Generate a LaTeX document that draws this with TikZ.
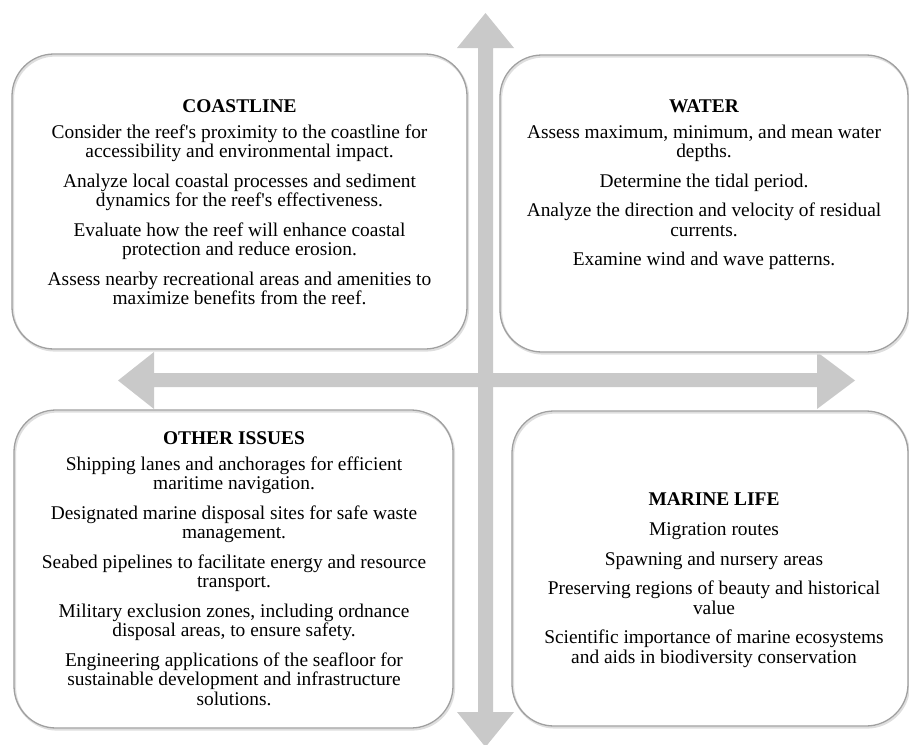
\documentclass[tikz,border=0pt]{standalone}
\usepackage{fontspec}
\setmainfont{Liberation Serif}
\newfontfamily\diagfont{Liberation Serif}
\definecolor{arrowgray}{RGB}{201,201,201}
\definecolor{boxline}{RGB}{160,160,160}
\definecolor{shadowline}{RGB}{222,222,222}
\begin{document}
\begin{tikzpicture}[x=1pt,y=-1pt,
  panel/.style={draw=boxline, line width=1.3pt, rounded corners=42pt, inner sep=0pt, outer sep=0pt},
  panelshadow/.style={draw=shadowline, line width=2.2pt, rounded corners=42pt, inner sep=0pt, outer sep=0pt},
  paneltext/.style={align=center, inner sep=0pt, font=\diagfont\fontsize{19.4}{19.5}\selectfont, anchor=base},
  paneltitle/.style={inner sep=0pt, font=\diagfont\bfseries\fontsize{19.4}{19.5}\selectfont, anchor=base},
  bigarrow/.style={fill=arrowgray, draw=none}]
\useasboundingbox (0,0) rectangle (909,744);

% cross of double arrows
\fill[bigarrow] (478,48) -- (457,48) -- (485.5,13) -- (514,48) -- (493,48)
  -- (493,712) -- (514,712) -- (485.5,747) -- (457,712) -- (478,712) -- cycle;
\fill[bigarrow] (154,373) -- (154,352) -- (118,380.5) -- (154,409) -- (154,387)
  -- (817,387) -- (817,409) -- (855,380.5) -- (817,352) -- (817,373) -- cycle;

% panels
\node[panelshadow, minimum width=455pt, minimum height=295pt] (coastS) at (240.5,203) {};
\node[panel, minimum width=455pt, minimum height=295pt] (coast) at (239.5,201.5) {};
\node[panelshadow, minimum width=408pt, minimum height=297pt] (waterS) at (705,205) {};
\node[panel, minimum width=408pt, minimum height=297pt] (water) at (704,203.5) {};
\node[panelshadow, minimum width=439pt, minimum height=318pt] (otherS) at (234.5,570.5) {};
\node[panel, minimum width=439pt, minimum height=318pt] (other) at (233.5,569) {};
\node[panelshadow, minimum width=396pt, minimum height=315pt] (marineS) at (711,570) {};
\node[panel, minimum width=396pt, minimum height=315pt] (marine) at (710,568.5) {};

% texts (base anchor = baseline of the last line)
\node[paneltitle] (coastT) at (239.5,112) {COASTLINE};
\node[paneltext] (coastB) at (239.5,304.5) {Consider the reef's proximity to the coastline for\\
accessibility and environmental impact.\\[10pt]
Analyze local coastal processes and sediment\\
dynamics for the reef's effectiveness.\\[10pt]
Evaluate how the reef will enhance coastal\\
protection and reduce erosion.\\[10pt]
Assess nearby recreational areas and amenities to\\
maximize benefits from the reef.};

\node[paneltitle] (waterT) at (704,112) {WATER};
\node[paneltext] (waterB) at (704,265.5) {Assess maximum, minimum, and mean water\\
depths.\\[10pt]
Determine the tidal period.\\[10pt]
Analyze the direction and velocity of residual\\
currents.\\[10pt]
Examine wind and wave patterns.};

\node[paneltitle] (otherT) at (234,444) {OTHER ISSUES};
\node[paneltext] (otherB) at (234,705) {Shipping lanes and anchorages for efficient\\
maritime navigation.\\[10pt]
Designated marine disposal sites for safe waste\\
management.\\[10pt]
Seabed pipelines to facilitate energy and resource\\
transport.\\[10pt]
Military exclusion zones, including ordnance\\
disposal areas, to ensure safety.\\[10pt]
Engineering applications of the seafloor for\\
sustainable development and infrastructure\\
solutions.};

\node[paneltitle] (marineT) at (714,505) {MARINE LIFE};
\node[paneltext] (marineB) at (714,663) {Migration routes\\[10pt]
Spawning and nursery areas\\[10pt]
Preserving regions of beauty and historical\\
value\\[10pt]
Scientific importance of marine ecosystems\\
and aids in biodiversity conservation};
\end{tikzpicture}
\end{document}
